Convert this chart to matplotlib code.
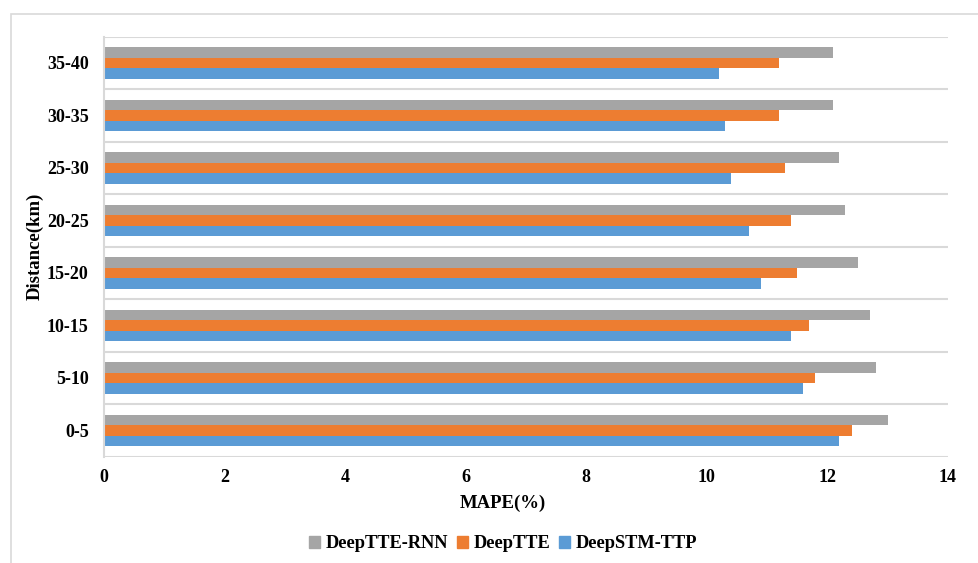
import numpy as np
import matplotlib.pyplot as plt
from matplotlib.patches import Rectangle, Patch

plt.rcParams['font.family'] = ['Liberation Serif', 'DejaVu Serif']
plt.rcParams['font.weight'] = 'bold'

distances = ['0-5', '5-10', '10-15', '15-20', '20-25', '25-30', '30-35', '35-40']
deeptte_rnn = [13.0, 12.8, 12.7, 12.5, 12.3, 12.2, 12.1, 12.1]
deeptte = [12.4, 11.8, 11.7, 11.5, 11.4, 11.3, 11.2, 11.2]
deepstm_ttp = [12.2, 11.6, 11.4, 10.9, 10.7, 10.4, 10.3, 10.2]
x_ticks = [0, 2, 4, 6, 8, 10, 12, 14]

c_gray = '#A5A5A5'
c_orange = '#ED7D31'
c_blue = '#5B9BD5'
grid_c = '#D9D9D9'

fig = plt.figure(figsize=(9.79, 5.63), dpi=100)
ax = fig.add_axes([0.1062, 0.1888, 0.8621, 0.746])

y = np.arange(len(distances))
h = 0.2
ax.barh(y + h, deeptte_rnn, height=h, color=c_gray, label='DeepTTE-RNN')
ax.barh(y, deeptte, height=h, color=c_orange, label='DeepTTE')
ax.barh(y - h, deepstm_ttp, height=h, color=c_blue, label='DeepSTM-TTP')

ax.set_xlim(0, 14)
ax.set_ylim(-0.5, len(distances) - 0.5)
ax.set_xticks(x_ticks)
ax.set_yticks(y)
ax.set_yticklabels(distances)

# category boundary lines
for b in np.arange(-0.5, len(distances), 1.0):
    ax.axhline(b, color=grid_c, lw=1.5, zorder=0)

for s in ['top', 'right', 'bottom']:
    ax.spines[s].set_visible(False)
ax.spines['left'].set_color(grid_c)
ax.spines['left'].set_linewidth(1.5)

ax.tick_params(axis='both', length=0, labelsize=13)
ax.tick_params(axis='y', pad=11)
ax.tick_params(axis='x', pad=9)

ax.set_xlabel('MAPE(%)', fontsize=13.5, fontweight='bold')
ax.xaxis.set_label_coords(0.472, -0.09)
ax.set_ylabel('Distance(km)', fontsize=13.5, fontweight='bold', labelpad=2)

handles = [Patch(color=c_gray), Patch(color=c_orange), Patch(color=c_blue)]
fig.legend(handles, ['DeepTTE-RNN', 'DeepTTE', 'DeepSTM-TTP'],
           loc='center', bbox_to_anchor=(0.514, 0.034), ncol=3, frameon=False,
           fontsize=13.2, handlelength=0.6, handleheight=0.6, handletextpad=0.3,
           columnspacing=0.5)

# outer chart border
fig.add_artist(Rectangle((11 / 979, -0.1), 1.2, 1 - 14 / 563 + 0.1,
                         transform=fig.transFigure, fill=False,
                         edgecolor=grid_c, lw=1.2))

fig.savefig('out.png', dpi=100)
